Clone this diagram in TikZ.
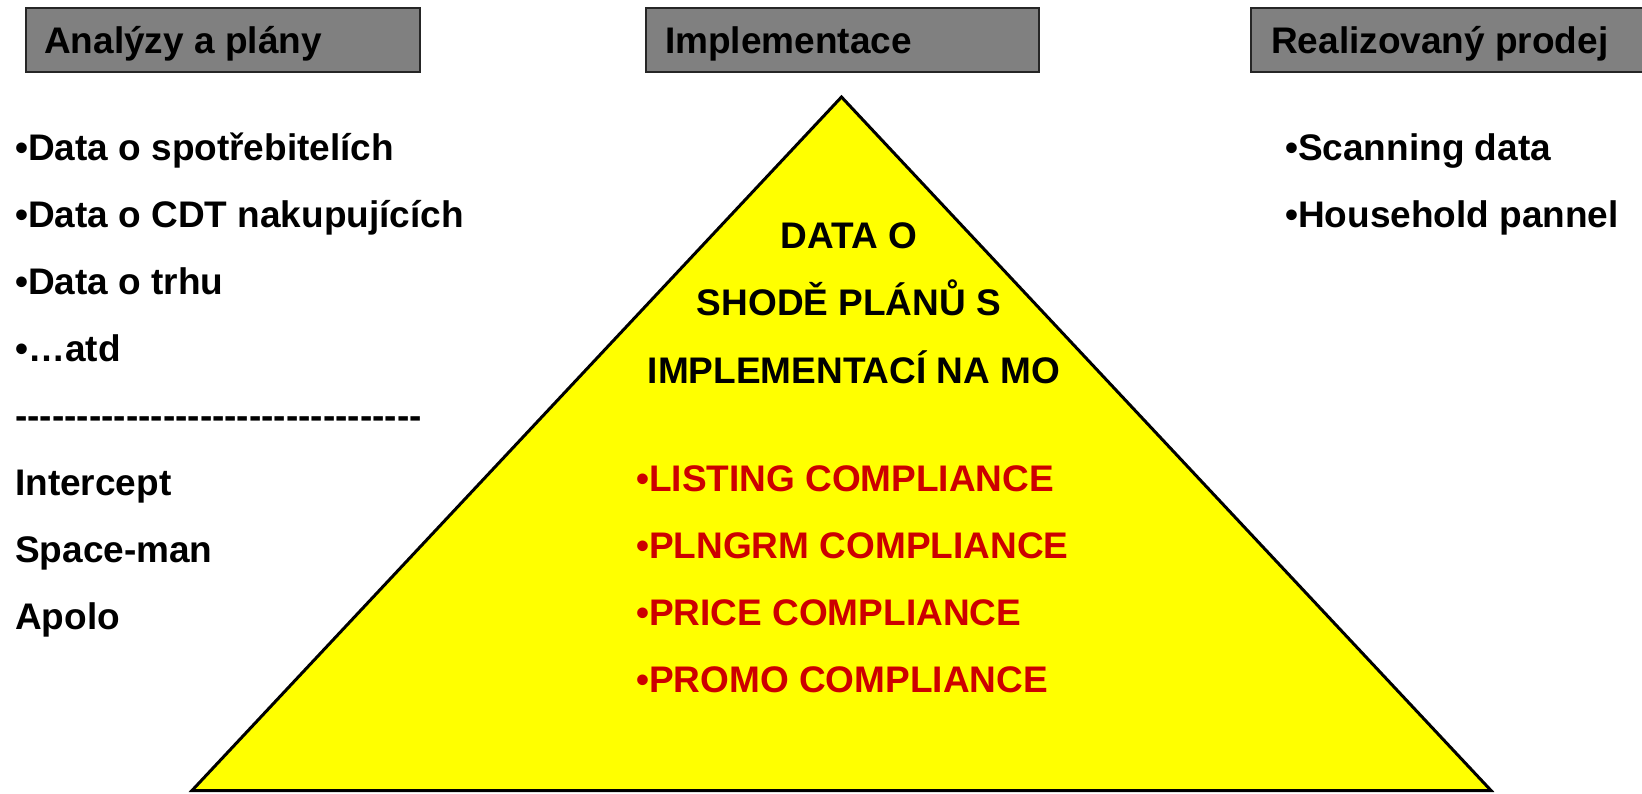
\documentclass[tikz,border=0pt]{standalone}
\usepackage{fontspec}
\setmainfont{Liberation Sans}
\definecolor{hdrgray}{HTML}{808080}
\definecolor{pyryellow}{HTML}{FFFF00}
\definecolor{cmpred}{HTML}{CC0000}
% a single hyphen that does not join its neighbours into a dash ligature
\newcommand\hy{-\kern0pt}
\newcommand\hyeight{\hy\hy\hy\hy\hy\hy\hy\hy}
\begin{document}
\begin{tikzpicture}[x=1pt,y=-1pt,
  hdrbox/.style={draw=black!85, line width=1.5pt, fill=hdrgray, inner sep=0pt, anchor=north west},
  txt/.style={font=\fontsize{37}{40}\selectfont\bfseries, inner sep=0pt, anchor=base west},
  ctxt/.style={font=\fontsize{37}{40}\selectfont\bfseries, inner sep=0pt, anchor=base},
  redtxt/.style={txt, text=cmpred}]
\useasboundingbox (0,0) rectangle (1642,793);

% pyramid
\coordinate (apex) at (841.5,97);
\coordinate (bl) at (192,790.5);
\coordinate (br) at (1491,790.5);
\draw[line width=3pt, line join=miter, fill=pyryellow] (apex) -- (bl) -- (br) -- cycle;

% column headers
\node[hdrbox, minimum width=394, minimum height=64] (h1) at (25,7) {};
\node[hdrbox, minimum width=393, minimum height=64] (h2) at (645,7) {};
\node[hdrbox, minimum width=400, minimum height=64] (h3) at (1250,7) {};
\node[txt] (h1t) at (44,53) {Analýzy a plány};
\node[txt] (h2t) at (665,53) {Implementace};
\node[txt] (h3t) at (1271,53) {Realizovaný prodej};

% left column
\node[txt] (l1) at (15,160) {•Data o spotřebitelích};
\node[txt] (l2) at (15,227) {•Data o CDT nakupujících};
\node[txt] (l3) at (15,294) {•Data o trhu};
\node[txt] (l4) at (15,361) {•…atd};
\node[txt] (l5) at (15,428) {\hyeight\hyeight\hyeight\hyeight\hy};
\node[txt] (l6) at (15,495) {Intercept};
\node[txt] (l7) at (15,562) {Space-man};
\node[txt] (l8) at (15,629) {Apolo};

% right column
\node[txt] (r1) at (1285,160) {•Scanning data};
\node[txt] (r2) at (1285,227) {•Household pannel};

% pyramid text
\node[ctxt] (p1) at (849,248) {DATA O};
\node[ctxt] (p2) at (849,315) {SHODĚ PLÁNŮ S};
\node[ctxt] (p3) at (854,383) {IMPLEMENTACÍ NA MO};
\node[redtxt] (c1) at (636,491) {•LISTING COMPLIANCE};
\node[redtxt] (c2) at (636,558) {•PLNGRM COMPLIANCE};
\node[redtxt] (c3) at (636,625) {•PRICE COMPLIANCE};
\node[redtxt] (c4) at (636,692) {•PROMO COMPLIANCE};
\end{tikzpicture}
\end{document}
